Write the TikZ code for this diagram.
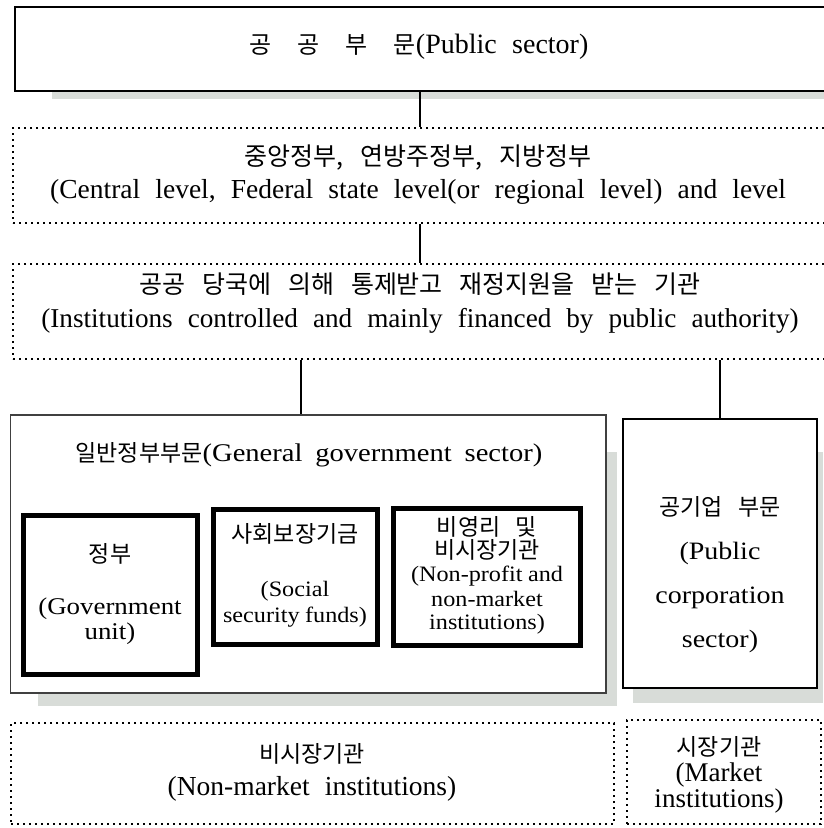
\documentclass[tikz,border=0pt]{standalone}
\usepackage{fontspec}
\setmainfont{Liberation Serif}
\newfontfamily\kr{Noto Sans CJK KR}[WordSpace=3]
\newfontfamily\tms{Liberation Serif}[WordSpace=2.2]
\newfontfamily\wide{Liberation Serif}[FakeStretch=1.12,WordSpace=1.8]
\newfontfamily\widen{Liberation Serif}[FakeStretch=1.1,WordSpace=0.9]
\definecolor{shadowgray}{RGB}{216,220,216}
\newcommand\KR[1]{{\kr\fontsize{23}{26}\selectfont #1}}
\begin{document}
\begin{tikzpicture}[x=1pt,y=-1pt,
  solidbox/.style={draw=black,line width=1.2pt,fill=white,inner sep=0pt},
  graybox/.style={draw=black!75,line width=1.2pt,fill=white,inner sep=0pt},
  dotbox/.style={draw=black,line width=2.2pt,dash pattern=on 2.4pt off 3.6pt,fill=white,inner sep=0pt},
  thickbox/.style={draw=black,line width=5pt,fill=white,inner sep=0pt},
  conn/.style={line width=2pt},
  shade/.style={fill=shadowgray,draw=none},
  txt/.style={inner sep=0pt,text height=0.75em,text depth=0.25em},
  krtxt/.style={inner sep=0pt,text height=0.85em,text depth=0.1em,font=\kr\fontsize{23}{26}\selectfont},
  krup/.style={krtxt,font=\kr\fontsize{25}{28}\selectfont},
  up/.style={txt,font=\tms\fontsize{27.5}{30}\selectfont},
  low/.style={txt,font=\wide\fontsize{24}{26}\selectfont}
]
\useasboundingbox (0,0) rectangle (823,828);

% shadows
\fill[shade] (52,55) rectangle (830,99);
\fill[shade] (38,452) rectangle (617,706);
\fill[shade] (633,452) rectangle (823,703);

% boxes
\node[solidbox,minimum width=815pt,minimum height=84pt] (top) at (422.5,49) {};
\node[dotbox,minimum width=817pt,minimum height=95pt] (lvl) at (421.5,175.5) {};
\node[dotbox,minimum width=817pt,minimum height=95pt] (inst) at (421.5,311.5) {};
\node[graybox,minimum width=595.5pt,minimum height=278pt] (gen) at (308.25,554) {};
\node[solidbox,minimum width=194pt,minimum height=269pt] (corp) at (720,553.5) {};
\node[thickbox,minimum width=174pt,minimum height=159pt] (gov) at (110.5,595) {};
\node[thickbox,minimum width=164pt,minimum height=135pt] (ssf) at (295.5,577) {};
\node[thickbox,minimum width=187pt,minimum height=137pt] (npi) at (487,577) {};
\node[dotbox,minimum width=603pt,minimum height=101pt] (nmk) at (312.5,773.5) {};
\node[dotbox,minimum width=194pt,minimum height=104pt] (mkt) at (724,772) {};

% connectors
\coordinate (c1) at (420,0);
\coordinate (c2) at (301,0);
\coordinate (c3) at (720,0);
\draw[conn] (top.south -| c1) -- (lvl.north -| c1);
\draw[conn] (lvl.south -| c1) -- (inst.north -| c1);
\draw[conn] (inst.south -| c2) -- (gen.north -| c2);
\draw[conn] (inst.south -| c3) -- (corp.north -| c3);

% texts
\node[up,font=\tms\fontsize{28}{30}\selectfont] (t1) at (419,51) {{\kr\fontsize{24}{26}\selectfont 공\hspace{26pt}공\hspace{26pt}부\hspace{26pt}문}(Public sector)};
\node[krup] (t2a) at (418,162) {중앙정부,\hspace{17pt}연방주정부,\hspace{17pt}지방정부};
\node[up] (t2b) at (418,196) {(Central level, Federal state level(or regional level) and level};
\node[krup] (t3a) at (420,290) {공공 당국에 의해 통제받고 재정지원을 받는 기관};
\node[up,font=\tms\fontsize{27.2}{30}\selectfont] (t3b) at (420,325) {(Institutions controlled and mainly financed by public authority)};

\node[txt,font=\wide\fontsize{25.5}{28}\selectfont] (g1) at (309,459) {\KR{일반정부부문}(General government sector)};

\node[krtxt] (gv1) at (110,559) {정부};
\node[low] (gv2) at (110,612) {(Government};
\node[low] (gv3) at (110,637) {unit)};

\node[krtxt] (ss1) at (295,539) {사회보장기금};
\node[txt,font=\widen\fontsize{22}{24}\selectfont] (ss2) at (295,594) {(Social};
\node[txt,font=\widen\fontsize{22}{24}\selectfont] (ss3) at (295,620) {security funds)};

\node[krtxt] (np1) at (487,532) {비영리 및};
\node[krtxt] (np2) at (487,555) {비시장기관};
\node[txt,font=\widen\fontsize{22}{25}\selectfont] (np3) at (487,579) {(Non-profit and};
\node[txt,font=\widen\fontsize{22}{25}\selectfont] (np4) at (487,604) {non-market};
\node[txt,font=\widen\fontsize{22}{25}\selectfont] (np5) at (487,627) {institutions)};

\node[krtxt] (pc1) at (720,512) {공기업 부문};
\node[low,font=\wide\fontsize{25}{27}\selectfont] (pc2) at (720,557) {(Public};
\node[low,font=\wide\fontsize{25}{27}\selectfont] (pc3) at (720,601) {corporation};
\node[low,font=\wide\fontsize{25}{27}\selectfont] (pc4) at (720,645) {sector)};

\node[krtxt] (nm1) at (312,759) {비시장기관};
\node[up] (nm2) at (312,793) {(Non-market institutions)};

\node[krtxt] (mk1) at (719,752) {시장기관};
\node[inner sep=0pt,align=center,font=\tms\fontsize{27}{22}\selectfont] (mk2) at (719,788) {(Market\\institutions)};
\end{tikzpicture}
\end{document}
